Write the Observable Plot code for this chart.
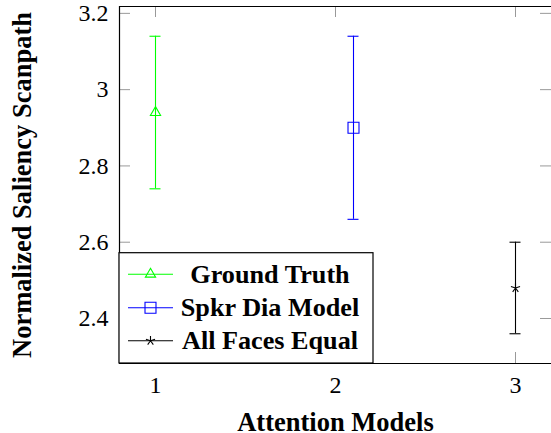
<!DOCTYPE html>
<html><head><meta charset="utf-8">
<script src="https://cdn.jsdelivr.net/npm/d3@7"></script>
<script src="https://cdn.jsdelivr.net/npm/@observablehq/plot@0.6"></script>
<style>body{margin:0;background:#fff}</style>
</head><body><div id="chart"></div>
<script>
const series = ["Ground Truth", "Spkr Dia Model", "All Faces Equal"];
const xPos = [1, 2.1, 3];
const means = [2.94, 2.9, 2.48];
const lows = [2.74, 2.66, 2.36];
const highs = [3.14, 3.14, 2.6];
const xTicks = [1, 2, 3];
const xTickLabels = ["1", "2", "3"];
const yTicks = [2.4, 2.6, 2.8, 3, 3.2];
const yTickLabels = ["2.4", "2.6", "2.8", "3", "3.2"];
const xLabel = "Attention Models";
const yLabel = "Normalized Saliency Scanpath";
const colors = ["#00ff00", "#0000ff", "#000000"];

const data = series.map((s, i) => ({series: s, x: xPos[i], mean: means[i], lo: lows[i], hi: highs[i]}));

const W = 551, H = 433;
const mL = 119, mT = 6, mB = 70, mR = 0;
const plotW = W - mL - mR, plotH = H - mT - mB;
const xDomain = [0.8, 3.2];
const yDomain = [2.282, 3.218];
const font = "'Liberation Serif', 'Times New Roman', serif";
const tickLen = 11;

const star = {
  draw(context, size) {
    const r = Math.sqrt(size / Math.PI);
    for (let k = 0; k < 5; k++) {
      const a = -Math.PI / 2 + k * 2 * Math.PI / 5;
      context.moveTo(0, 0);
      context.lineTo(r * Math.cos(a), r * Math.sin(a));
    }
  }
};
const shapes = [d3.symbolTriangle, d3.symbolSquare, star];
const sizes = [3.8, 6.2, 4.8];

const marks = [
  Plot.ruleX(xTicks, {x: d => d, stroke: "#999", strokeWidth: 1, insetTop: plotH - tickLen}),
  Plot.ruleX(xTicks, {x: d => d, stroke: "#999", strokeWidth: 1, insetBottom: plotH - tickLen}),
  Plot.ruleY(yTicks, {y: d => d, stroke: "#999", strokeWidth: 1, insetRight: plotW - tickLen}),
  Plot.ruleY(yTicks, {y: d => d, stroke: "#999", strokeWidth: 1, insetLeft: plotW - tickLen}),
  Plot.ruleX([xDomain[0]], {stroke: "#000", strokeWidth: 1.2}),
  Plot.ruleY([yDomain[0], yDomain[1]], {stroke: "#000", strokeWidth: 1.2}),
  Plot.axisX(xTicks, {anchor: "bottom", tickSize: 0, tickPadding: 12, fontSize: 24, fontFamily: font,
    tickFormat: d => xTickLabels[xTicks.indexOf(d)], label: null}),
  Plot.axisY(yTicks, {anchor: "left", tickSize: 0, tickPadding: 11, fontSize: 24, fontFamily: font,
    tickFormat: d => yTickLabels[yTicks.indexOf(d)], label: null}),
  Plot.ruleX(data, {x: "x", y1: "lo", y2: "hi", stroke: "series", strokeWidth: 1.1}),
  Plot.ruleY(data, {y: "hi", x1: "x", x2: "x", insetLeft: -5.5, insetRight: -5.5, stroke: "series", strokeWidth: 1.1}),
  Plot.ruleY(data, {y: "lo", x1: "x", x2: "x", insetLeft: -5.5, insetRight: -5.5, stroke: "series", strokeWidth: 1.1}),
  ...series.map((s, i) => Plot.dot(data, {filter: d => d.series === s, x: "x", y: "mean",
    symbol: shapes[i], r: sizes[i], stroke: "series", fill: "none", strokeWidth: 1.1})),
  Plot.text([xLabel], {frameAnchor: "bottom", dy: 59, lineAnchor: "middle", textAnchor: "middle", text: d => d,
    fontSize: 26.5, fontWeight: "bold", fontFamily: font, fill: "#000"}),
  Plot.text([yLabel], {frameAnchor: "left", dx: -97, rotate: -90, lineAnchor: "middle", textAnchor: "middle", text: d => d,
    fontSize: 26.5, fontWeight: "bold", fontFamily: font, fill: "#000"})
];

const chart = Plot.plot({
  width: W, height: H,
  marginLeft: mL, marginTop: mT, marginBottom: mB, marginRight: mR,
  style: {background: "#fff", color: "#000", fontFamily: font, overflow: "visible"},
  x: {domain: xDomain, axis: null},
  y: {domain: yDomain, axis: null},
  color: {domain: series, range: colors},
  marks
});

const svg = d3.select(chart);
const lgX = mL, lgY = 252.7, lgW = 254, lgH = (H - mB) - lgY;
const lg = svg.append("g");
lg.append("rect").attr("x", lgX).attr("y", lgY).attr("width", lgW).attr("height", lgH)
  .attr("fill", "#fff").attr("stroke", "#000").attr("stroke-width", 1.2);
const rowY = [21.5, 55, 88];
series.forEach((s, i) => {
  const cy = lgY + rowY[i];
  lg.append("line").attr("x1", lgX + 9).attr("x2", lgX + 54).attr("y1", cy).attr("y2", cy)
    .attr("stroke", colors[i]).attr("stroke-width", 1.1);
  lg.append("path").attr("transform", `translate(${lgX + 31.5},${cy})`)
    .attr("d", d3.symbol().type(shapes[i]).size(sizes[i] * sizes[i] * Math.PI)())
    .attr("fill", "none").attr("stroke", colors[i]).attr("stroke-width", 1.1);
  lg.append("text").attr("x", lgX + 151).attr("y", cy).attr("dy", "0.32em")
    .attr("text-anchor", "middle").attr("font-family", font).attr("font-weight", "bold")
    .attr("font-size", 26.2).attr("fill", "#000").text(s);
});

document.getElementById("chart").appendChild(chart);
</script>
</body></html>
